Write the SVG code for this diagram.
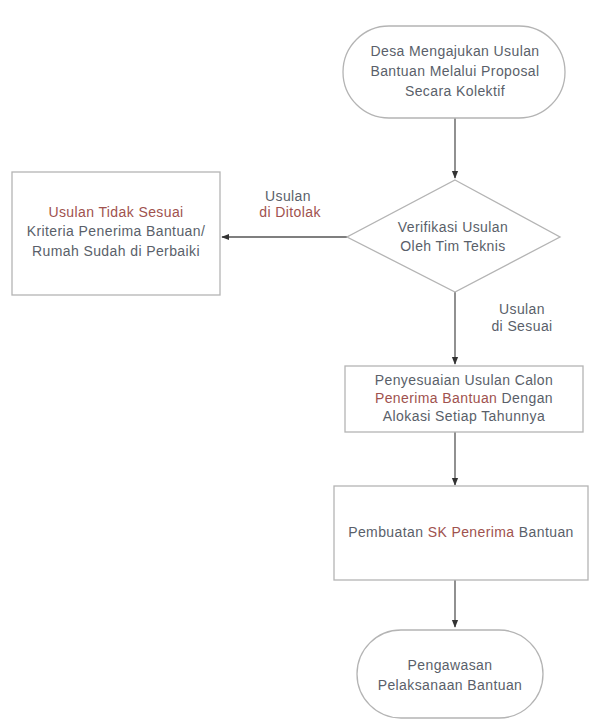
<svg xmlns="http://www.w3.org/2000/svg" width="596" height="722" viewBox="0 0 596 722">
<style>
.shape{fill:#fff;stroke:#b4b4b4;stroke-width:1.3}
.t{font-family:"Liberation Sans",Arial,sans-serif;font-size:14px;fill:#5a5f6a;text-anchor:middle;letter-spacing:0.4px}
.r{fill:#a0524e}
.line{stroke:#555;stroke-width:1.3;fill:none}
</style>
<defs>
<marker id="ah" viewBox="0 0 10 10" refX="9" refY="5" markerWidth="6" markerHeight="6" orient="auto">
<path d="M0,1 L10,5 L0,9 Z" fill="#333"/>
</marker>
</defs>
<rect width="596" height="722" fill="#fff"/>
<g id="connectors">
<line class="line" x1="455" y1="118" x2="455" y2="178" marker-end="url(#ah)"/>
<line class="line" x1="347" y1="237" x2="222" y2="237" marker-end="url(#ah)"/>
<line class="line" x1="455" y1="292" x2="455" y2="364" marker-end="url(#ah)"/>
<line class="line" x1="455" y1="432" x2="455" y2="485" marker-end="url(#ah)"/>
<line class="line" x1="455" y1="580" x2="455" y2="627" marker-end="url(#ah)"/>
<text class="t" x="288" y="201">Usulan</text>
<text class="t r" x="290" y="217">di Ditolak</text>
<text class="t" x="522" y="314">Usulan</text>
<text class="t" x="522" y="331">di Sesuai</text>
</g>
<g id="n1">
<rect class="shape" x="343" y="26" width="222" height="92" rx="46" ry="46"/>
<text class="t" x="455" y="56">Desa Mengajukan Usulan</text>
<text class="t" x="455" y="76">Bantuan Melalui Proposal</text>
<text class="t" x="455" y="96">Secara Kolektif</text>
</g>
<g id="n2">
<polygon class="shape" points="455,180 560,237 455,292 347,237"/>
<text class="t" x="453" y="232">Verifikasi Usulan</text>
<text class="t" x="453" y="251">Oleh Tim Teknis</text>
</g>
<g id="n3">
<rect class="shape" x="12" y="172" width="208" height="123"/>
<text class="t r" x="116" y="217">Usulan Tidak Sesuai</text>
<text class="t" x="116" y="236">Kriteria Penerima Bantuan/</text>
<text class="t" x="116" y="256">Rumah Sudah di Perbaiki</text>
</g>
<g id="n4">
<rect class="shape" x="345" y="366" width="238" height="66"/>
<text class="t" x="464" y="385">Penyesuaian Usulan Calon</text>
<text class="t" x="464" y="403"><tspan class="r">Penerima Bantuan</tspan> Dengan</text>
<text class="t" x="464" y="421">Alokasi Setiap Tahunnya</text>
</g>
<g id="n5">
<rect class="shape" x="334" y="486" width="254" height="94"/>
<text class="t" x="461" y="537">Pembuatan <tspan class="r">SK Penerima</tspan> Bantuan</text>
</g>
<g id="n6">
<rect class="shape" x="357" y="630" width="186" height="88" rx="44" ry="44"/>
<text class="t" x="450" y="670">Pengawasan</text>
<text class="t" x="450" y="690">Pelaksanaan Bantuan</text>
</g>
</svg>
